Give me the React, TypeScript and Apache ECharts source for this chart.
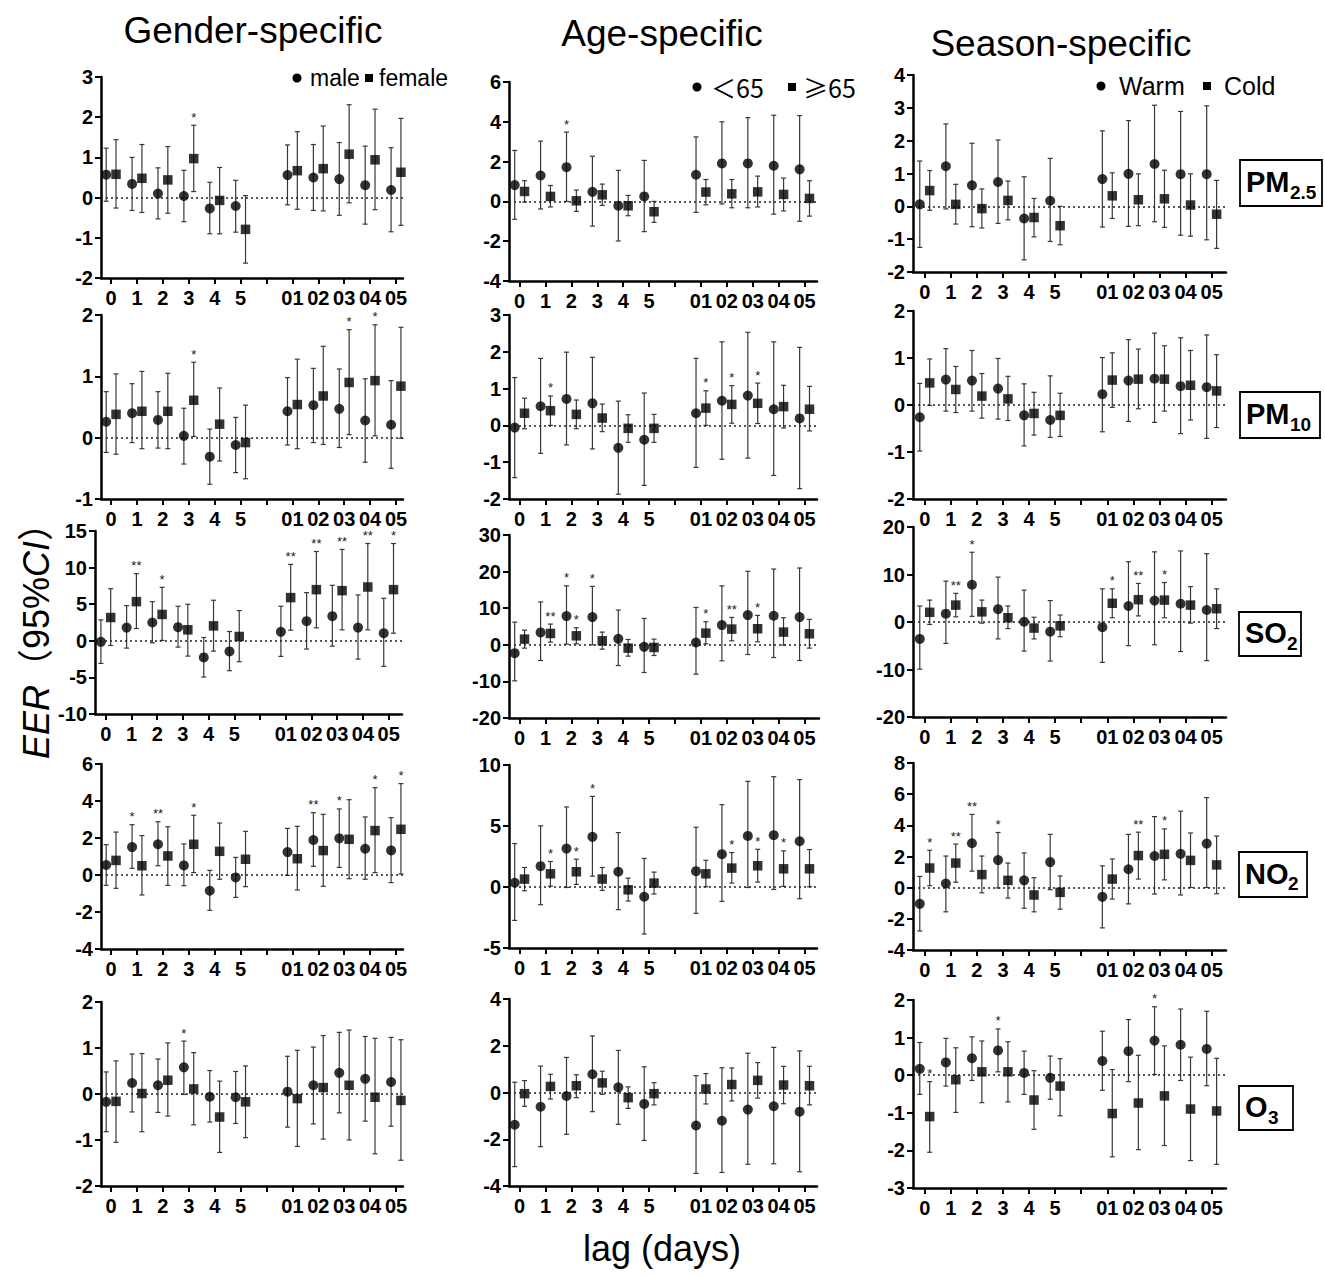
import React, { useEffect, useRef } from "react";
import * as echarts from "echarts";

type Tri = [number, number, number]; // [estimate, lower CI, upper CI]

// ---- categories / tick labels ----
const LAG_LABELS = ["0", "1", "2", "3", "4", "5", "01", "02", "03", "04", "05"];
const LAG_POS = [0, 1, 2, 3, 4, 5, 7, 8, 9, 10, 11];
const X_TICKS = [0, 1, 2, 3, 4, 5, 6, 7, 8, 9, 10, 11];

// ---- Gender-specific ----
const PM25_MALE: Tri[] = [[0.57,-0.09,1.23],[0.34,-0.32,1.0],[0.10,-0.53,0.74],[0.04,-0.60,0.68],[-0.27,-0.90,0.38],[-0.21,-0.86,0.43],[0.56,-0.18,1.31],[0.50,-0.32,1.32],[0.46,-0.44,1.37],[0.31,-0.66,1.28],[0.19,-0.85,1.24]];
const PM25_FEMALE: Tri[] = [[0.58,-0.26,1.44],[0.48,-0.37,1.32],[0.44,-0.39,1.27],[0.97,0.15,1.80],[-0.07,-0.90,0.75],[-0.79,-1.63,0.05],[0.67,-0.29,1.64],[0.72,-0.33,1.78],[1.08,-0.13,2.31],[0.94,-0.30,2.20],[0.63,-0.69,1.97]];
const PM25_MALE_SIG = ["","","","","","","","","","",""];
const PM25_FEMALE_SIG = ["","","","*","","","","","","",""];

const PM10_MALE: Tri[] = [[0.26,-0.24,0.75],[0.40,-0.08,0.88],[0.29,-0.17,0.75],[0.03,-0.43,0.48],[-0.31,-0.76,0.14],[-0.12,-0.57,0.33],[0.43,-0.12,0.98],[0.53,-0.08,1.13],[0.47,-0.16,1.12],[0.28,-0.40,0.96],[0.21,-0.50,0.93]];
const PM10_FEMALE: Tri[] = [[0.38,-0.27,1.04],[0.43,-0.18,1.08],[0.43,-0.18,1.05],[0.61,0.02,1.23],[0.22,-0.38,0.81],[-0.08,-0.67,0.53],[0.54,-0.18,1.28],[0.68,-0.11,1.49],[0.90,0.05,1.76],[0.93,0.03,1.84],[0.84,-0.01,1.80]];
const PM10_MALE_SIG = ["","","","","","","","","","",""];
const PM10_FEMALE_SIG = ["","","","*","","","","","*","*",""];

const SO2_MALE: Tri[] = [[-0.14,-3.09,2.86],[1.81,-1.0,4.81],[2.50,-0.27,5.35],[1.86,-0.86,4.72],[-2.27,-4.95,0.45],[-1.45,-4.08,1.27],[1.22,-2.13,4.72],[2.68,-1.13,6.58],[3.36,-0.73,7.58],[1.81,-2.50,6.26],[1.04,-3.49,5.81]];
const SO2_FEMALE: Tri[] = [[3.18,-0.64,7.12],[5.35,1.68,9.17],[3.6,0.05,7.3],[1.50,-2.09,4.99],[2.04,-1.41,5.54],[0.59,-2.86,4.13],[5.90,1.45,10.44],[6.99,1.77,12.2],[6.85,1.50,12.48],[7.35,1.50,13.29],[6.99,1.04,13.29]];
const SO2_MALE_SIG = ["","","","","","","","","","",""];
const SO2_FEMALE_SIG = ["","**","*","","","","**","**","**","**","*"];

const NO2_MALE: Tri[] = [[0.54,-0.56,1.64],[1.51,0.36,2.72],[1.66,0.50,2.88],[0.52,-0.58,1.68],[-0.85,-1.91,0.25],[-0.13,-1.21,0.95],[1.24,-0.02,2.52],[1.89,0.47,3.37],[1.98,0.41,3.57],[1.42,-0.23,3.14],[1.33,-0.41,3.10]];
const NO2_FEMALE: Tri[] = [[0.79,-0.72,2.32],[0.50,-1.08,2.13],[1.03,-0.56,2.61],[1.66,0.13,3.23],[1.28,-0.23,2.81],[0.85,-0.63,2.36],[0.88,-0.81,2.63],[1.32,-0.61,3.28],[1.93,-0.20,4.07],[2.40,0.13,4.72],[2.47,0.05,4.94]];
const NO2_MALE_SIG = ["","*","**","","","","","**","*","",""];
const NO2_FEMALE_SIG = ["","","","*","","","","","","*","*"];

const O3_MALE: Tri[] = [[-0.17,-0.82,0.48],[0.24,-0.39,0.87],[0.19,-0.40,0.76],[0.58,-0.01,1.15],[-0.06,-0.61,0.51],[-0.07,-0.64,0.49],[0.05,-0.72,0.82],[0.19,-0.65,1.02],[0.46,-0.41,1.34],[0.33,-0.59,1.25],[0.26,-0.70,1.23]];
const O3_FEMALE: Tri[] = [[-0.16,-1.05,0.72],[0.01,-0.82,0.88],[0.30,-0.48,1.11],[0.11,-0.67,0.90],[-0.50,-1.27,0.28],[-0.17,-0.95,0.61],[-0.10,-1.14,0.95],[0.14,-0.98,1.27],[0.19,-1.00,1.39],[-0.07,-1.30,1.21],[-0.14,-1.44,1.18]];
const O3_MALE_SIG = ["","","","*","","","","","","",""];
const O3_FEMALE_SIG = ["","","","","","","","","","",""];

// ---- Age-specific ----
const PM25_YOUNG: Tri[] = [[0.82,-0.90,2.56],[1.30,-0.38,3.03],[1.72,0.0,3.48],[0.48,-1.24,2.27],[-0.22,-1.99,1.56],[0.25,-1.52,2.06],[1.34,-0.55,3.24],[1.91,-0.13,4.0],[1.91,-0.32,4.21],[1.79,-0.64,4.33],[1.61,-1.0,4.31]];
const PM25_OLD: Tri[] = [[0.50,-0.03,1.04],[0.25,-0.28,0.80],[0.03,-0.50,0.57],[0.33,-0.20,0.87],[-0.22,-0.72,0.30],[-0.52,-1.05,0.0],[0.47,-0.17,1.10],[0.38,-0.32,1.10],[0.48,-0.28,1.27],[0.35,-0.48,1.17],[0.15,-0.74,1.04]];
const PM25_YOUNG_SIG = ["","","*","","","","","","","",""];
const PM25_OLD_SIG = ["","","","","","","","","","",""];

const PM10_YOUNG: Tri[] = [[-0.06,-1.42,1.30],[0.52,-0.76,1.82],[0.72,-0.53,1.99],[0.60,-0.64,1.85],[-0.61,-1.87,0.66],[-0.39,-1.63,0.88],[0.33,-1.14,1.82],[0.67,-0.92,2.27],[0.81,-0.89,2.53],[0.44,-1.36,2.27],[0.19,-1.72,2.12]];
const PM10_OLD: Tri[] = [[0.33,-0.09,0.74],[0.40,0.0,0.80],[0.30,-0.09,0.69],[0.20,-0.17,0.58],[-0.08,-0.46,0.29],[-0.08,-0.46,0.30],[0.47,0.0,0.94],[0.57,0.06,1.08],[0.60,0.05,1.15],[0.51,-0.07,1.09],[0.44,-0.15,1.06]];
const PM10_YOUNG_SIG = ["","","","","","","","","","",""];
const PM10_OLD_SIG = ["","*","","","","","*","*","*","",""];

const SO2_YOUNG: Tri[] = [[-2.28,-9.85,6.2],[3.38,-4.29,11.7],[7.85,0.18,16.1],[7.57,0.0,15.97],[1.64,-5.66,9.49],[-0.55,-7.57,7.2],[0.64,-8.03,10.2],[5.38,-4.38,16.1],[8.12,-2.65,20.07],[7.94,-3.47,20.7],[7.57,-4.29,20.98]];
const SO2_OLD: Tri[] = [[1.55,-0.91,4.01],[3.10,0.73,5.66],[2.46,0.27,4.65],[1.09,-1.19,3.47],[-0.91,-3.10,1.46],[-0.73,-2.92,1.55],[3.19,0.27,6.30],[4.29,1.09,7.48],[4.38,0.82,8.03],[3.47,-0.09,7.39],[3.01,-0.91,6.93]];
const SO2_YOUNG_SIG = ["","","*","*","","","","","","",""];
const SO2_OLD_SIG = ["","**","*","","","","*","**","*","",""];

const NO2_YOUNG: Tri[] = [[0.35,-2.74,3.56],[1.71,-1.45,5.01],[3.15,-0.04,6.56],[4.11,0.89,7.43],[1.25,-1.86,4.46],[-0.80,-3.85,2.34],[1.30,-2.16,4.90],[2.69,-1.18,6.75],[4.19,-0.04,8.66],[4.25,-0.20,9.04],[3.75,-0.96,8.80]];
const NO2_OLD: Tri[] = [[0.65,-0.31,1.60],[1.08,0.07,2.09],[1.25,0.21,2.28],[0.65,-0.28,1.60],[-0.23,-1.15,0.73],[0.32,-0.58,1.22],[1.08,0.02,2.19],[1.55,0.32,2.82],[1.74,0.40,3.09],[1.49,0.05,2.96],[1.49,0.02,3.07]];
const NO2_YOUNG_SIG = ["","","","*","","","","","","",""];
const NO2_OLD_SIG = ["","*","*","","","","","*","*","*",""];

const O3_YOUNG: Tri[] = [[-1.38,-3.17,0.44],[-0.61,-2.32,1.13],[-0.15,-1.79,1.50],[0.78,-0.82,2.42],[0.22,-1.36,1.80],[-0.49,-2.05,1.10],[-1.41,-3.46,0.72],[-1.21,-3.42,1.06],[-0.73,-3.07,1.68],[-0.59,-3.05,1.93],[-0.82,-3.39,1.78]];
const O3_OLD: Tri[] = [[-0.05,-0.59,0.51],[0.26,-0.28,0.78],[0.29,-0.22,0.76],[0.41,-0.08,0.91],[-0.22,-0.68,0.24],[-0.05,-0.53,0.42],[0.15,-0.49,0.81],[0.34,-0.36,1.05],[0.52,-0.24,1.28],[0.32,-0.48,1.12],[0.29,-0.53,1.12]];
const O3_YOUNG_SIG = ["","","","","","","","","","",""];
const O3_OLD_SIG = ["","","","","","","","","","",""];

// ---- Season-specific ----
const PM25_WARM: Tri[] = [[0.06,-1.25,1.38],[1.22,-0.08,2.51],[0.64,-0.62,1.92],[0.74,-0.52,2.02],[-0.37,-1.63,0.90],[0.17,-1.07,1.46],[0.83,-0.63,2.30],[0.99,-0.61,2.61],[1.29,-0.47,3.08],[0.98,-0.88,2.89],[0.98,-1.02,3.06]];
const PM25_COLD: Tri[] = [[0.48,-0.12,1.09],[0.06,-0.54,0.67],[-0.07,-0.66,0.53],[0.18,-0.41,0.77],[-0.34,-0.93,0.24],[-0.59,-1.17,0.0],[0.32,-0.37,1.02],[0.20,-0.59,0.99],[0.23,-0.64,1.10],[0.04,-0.91,0.99],[-0.24,-1.28,0.79]];
const PM25_WARM_SIG = ["","","","","","","","","","",""];
const PM25_COLD_SIG = ["","","","","","","","","","",""];

const PM10_WARM: Tri[] = [[-0.26,-0.98,0.46],[0.54,-0.13,1.20],[0.52,-0.13,1.16],[0.35,-0.30,0.99],[-0.22,-0.87,0.45],[-0.32,-0.69,0.62],[0.23,-0.57,1.01],[0.52,-0.35,1.39],[0.56,-0.37,1.53],[0.40,-0.61,1.43],[0.38,-0.71,1.49]];
const PM10_COLD: Tri[] = [[0.47,-0.01,0.98],[0.33,-0.16,0.82],[0.19,-0.28,0.67],[0.13,-0.33,0.61],[-0.18,-0.64,0.27],[-0.22,-0.67,0.25],[0.53,-0.05,1.11],[0.55,-0.08,1.19],[0.55,-0.13,1.26],[0.42,-0.32,1.16],[0.30,-0.48,1.07]];
const PM10_WARM_SIG = ["","","","","","","","","","",""];
const PM10_COLD_SIG = ["","","","","","","","","","",""];

const SO2_WARM: Tri[] = [[-3.56,-9.93,3.37],[1.76,-4.51,8.60],[7.84,1.19,14.68],[2.71,-3.56,9.45],[0.05,-6.13,6.70],[-2.04,-8.22,4.51],[-1.09,-8.50,6.98],[3.37,-4.99,12.68],[4.51,-4.80,14.77],[3.85,-6.22,14.96],[2.52,-8.12,14.39]];
const SO2_COLD: Tri[] = [[2.04,-0.52,4.61],[3.56,1.09,6.03],[2.14,-0.24,4.61],[0.90,-1.38,3.37],[-1.28,-3.56,1.0],[-0.81,-3.09,1.47],[3.94,0.90,6.98],[4.70,1.28,8.12],[4.61,0.90,8.31],[3.56,-0.24,7.46],[2.80,-1.38,6.98]];
const SO2_WARM_SIG = ["","","*","","","","","","","",""];
const SO2_COLD_SIG = ["","**","","","","","*","**","*","",""];

const NO2_WARM: Tri[] = [[-1.04,-2.78,0.72],[0.27,-1.55,2.03],[2.85,1.06,4.70],[1.77,-0.02,3.54],[0.47,-1.32,2.23],[1.64,-0.13,3.42],[-0.59,-2.58,1.40],[1.18,-1.04,3.42],[2.03,-0.41,4.56],[2.17,-0.47,4.91],[2.83,0.01,5.78]];
const NO2_COLD: Tri[] = [[1.26,0.13,2.40],[1.58,0.35,2.80],[0.84,-0.33,2.03],[0.47,-0.67,1.58],[-0.47,-1.55,0.64],[-0.30,-1.38,0.75],[0.55,-0.73,1.84],[2.06,0.55,3.56],[2.14,0.50,3.77],[1.75,0.01,3.51],[1.46,-0.39,3.31]];
const NO2_WARM_SIG = ["","","**","*","","","","","","",""];
const NO2_COLD_SIG = ["*","**","","","","","","**","*","",""];

const O3_WARM: Tri[] = [[0.17,-0.51,0.87],[0.34,-0.29,0.98],[0.45,-0.14,1.02],[0.66,0.09,1.23],[0.06,-0.51,0.64],[-0.07,-0.64,0.51],[0.38,-0.40,1.17],[0.64,-0.17,1.48],[0.92,0.02,1.82],[0.81,-0.14,1.76],[0.70,-0.28,1.70]];
const O3_COLD: Tri[] = [[-1.10,-2.05,-0.17],[-0.12,-0.99,0.73],[0.09,-0.73,0.91],[0.09,-0.71,0.89],[-0.66,-1.44,0.12],[-0.29,-1.08,0.44],[-1.02,-2.17,0.15],[-0.74,-1.98,0.53],[-0.55,-1.87,0.78],[-0.90,-2.27,0.48],[-0.95,-2.37,0.45]];
const O3_WARM_SIG = ["","","","*","","","","","*","",""];
const O3_COLD_SIG = ["*","","","","","","","","","",""];

// ---- y-axis ranges [min, max, interval] ----
const Y_GENDER: [number, number, number][] = [[-2, 3, 1], [-1, 2, 1], [-10, 15, 5], [-4, 6, 2], [-2, 2, 1]];
const Y_AGE: [number, number, number][] = [[-4, 6, 2], [-2, 3, 1], [-20, 30, 10], [-5, 10, 5], [-4, 4, 2]];
const Y_SEASON: [number, number, number][] = [[-2, 4, 1], [-2, 2, 1], [-20, 20, 10], [-4, 8, 2], [-3, 2, 1]];

// ---- layout (pixels): [left, right, top, bottom] and x range ----
const BOX_GENDER = [[101, 403, 77, 278], [101, 403, 315, 499], [95, 402, 531, 714], [101, 403, 764, 949], [101, 403, 1002, 1186]];
const BOX_AGE = [[509, 817, 82, 281], [509, 817, 315, 499], [509, 819, 535, 718], [509, 817, 765, 948], [509, 817, 999, 1186]];
const BOX_SEASON = [[913, 1226, 75, 272], [913, 1226, 311, 499], [913, 1226, 527, 717], [913, 1226, 763, 950], [913, 1226, 1000, 1188]];
const XR_GENDER = [[-0.39, 11.27], [-0.39, 11.27], [-0.42, 11.52], [-0.39, 11.27], [-0.39, 11.27]];
const XR_AGE = [[-0.41, 11.48], [-0.41, 11.48], [-0.41, 11.56], [-0.41, 11.48], [-0.41, 11.48]];
const XR_SEASON = [[-0.45, 11.55], [-0.45, 11.55], [-0.45, 11.55], [-0.45, 11.55], [-0.45, 11.55]];

const FONT = "'Liberation Sans', Arial, Helvetica, sans-serif";
const CJK = "'Liberation Sans', 'Noto Sans CJK SC', sans-serif";
const CJK_FIRST = "'Noto Sans CJK SC', 'Liberation Sans', sans-serif";
const OFF_A = -0.19;
const OFF_B = 0.19;

interface Panel {
  a: Tri[]; b: Tri[]; sigA: string[]; sigB: string[];
  y: [number, number, number]; box: number[]; xr: number[];
}

const PANELS: Panel[] = [
  { a: PM25_MALE, b: PM25_FEMALE, sigA: PM25_MALE_SIG, sigB: PM25_FEMALE_SIG, y: Y_GENDER[0], box: BOX_GENDER[0], xr: XR_GENDER[0] },
  { a: PM10_MALE, b: PM10_FEMALE, sigA: PM10_MALE_SIG, sigB: PM10_FEMALE_SIG, y: Y_GENDER[1], box: BOX_GENDER[1], xr: XR_GENDER[1] },
  { a: SO2_MALE, b: SO2_FEMALE, sigA: SO2_MALE_SIG, sigB: SO2_FEMALE_SIG, y: Y_GENDER[2], box: BOX_GENDER[2], xr: XR_GENDER[2] },
  { a: NO2_MALE, b: NO2_FEMALE, sigA: NO2_MALE_SIG, sigB: NO2_FEMALE_SIG, y: Y_GENDER[3], box: BOX_GENDER[3], xr: XR_GENDER[3] },
  { a: O3_MALE, b: O3_FEMALE, sigA: O3_MALE_SIG, sigB: O3_FEMALE_SIG, y: Y_GENDER[4], box: BOX_GENDER[4], xr: XR_GENDER[4] },
  { a: PM25_YOUNG, b: PM25_OLD, sigA: PM25_YOUNG_SIG, sigB: PM25_OLD_SIG, y: Y_AGE[0], box: BOX_AGE[0], xr: XR_AGE[0] },
  { a: PM10_YOUNG, b: PM10_OLD, sigA: PM10_YOUNG_SIG, sigB: PM10_OLD_SIG, y: Y_AGE[1], box: BOX_AGE[1], xr: XR_AGE[1] },
  { a: SO2_YOUNG, b: SO2_OLD, sigA: SO2_YOUNG_SIG, sigB: SO2_OLD_SIG, y: Y_AGE[2], box: BOX_AGE[2], xr: XR_AGE[2] },
  { a: NO2_YOUNG, b: NO2_OLD, sigA: NO2_YOUNG_SIG, sigB: NO2_OLD_SIG, y: Y_AGE[3], box: BOX_AGE[3], xr: XR_AGE[3] },
  { a: O3_YOUNG, b: O3_OLD, sigA: O3_YOUNG_SIG, sigB: O3_OLD_SIG, y: Y_AGE[4], box: BOX_AGE[4], xr: XR_AGE[4] },
  { a: PM25_WARM, b: PM25_COLD, sigA: PM25_WARM_SIG, sigB: PM25_COLD_SIG, y: Y_SEASON[0], box: BOX_SEASON[0], xr: XR_SEASON[0] },
  { a: PM10_WARM, b: PM10_COLD, sigA: PM10_WARM_SIG, sigB: PM10_COLD_SIG, y: Y_SEASON[1], box: BOX_SEASON[1], xr: XR_SEASON[1] },
  { a: SO2_WARM, b: SO2_COLD, sigA: SO2_WARM_SIG, sigB: SO2_COLD_SIG, y: Y_SEASON[2], box: BOX_SEASON[2], xr: XR_SEASON[2] },
  { a: NO2_WARM, b: NO2_COLD, sigA: NO2_WARM_SIG, sigB: NO2_COLD_SIG, y: Y_SEASON[3], box: BOX_SEASON[3], xr: XR_SEASON[3] },
  { a: O3_WARM, b: O3_COLD, sigA: O3_WARM_SIG, sigB: O3_COLD_SIG, y: Y_SEASON[4], box: BOX_SEASON[4], xr: XR_SEASON[4] },
];

function errRender(sig: string[]) {
  return (params: any, api: any) => {
    const x = api.value(0);
    const lo = api.value(1);
    const hi = api.value(2);
    const pLo = api.coord([x, lo]);
    const pHi = api.coord([x, hi]);
    const c = 2.5;
    const st = { stroke: "#383838", lineWidth: 1.2 };
    const children: any[] = [
      { type: "line", shape: { x1: pLo[0], y1: pLo[1], x2: pHi[0], y2: pHi[1] }, style: st },
      { type: "line", shape: { x1: pHi[0] - c, y1: pHi[1], x2: pHi[0] + c, y2: pHi[1] }, style: st },
      { type: "line", shape: { x1: pLo[0] - c, y1: pLo[1], x2: pLo[0] + c, y2: pLo[1] }, style: st },
    ];
    const s = sig[params.dataIndex];
    if (s) {
      children.push({
        type: "text",
        x: pHi[0],
        y: pHi[1] - 3,
        style: {
          text: s, fill: "#222", fontSize: 13, lineHeight: 10, fontFamily: FONT,
          align: "center", verticalAlign: "bottom", textAlign: "center", textVerticalAlign: "bottom",
        },
      });
    }
    return { type: "group", children };
  };
}

function txt(x: number, y: number, text: string, size: number, extra: any = {}) {
  return {
    type: "text", x, y, silent: true,
    style: {
      text, fill: "#000", fontSize: size, fontFamily: FONT,
      align: "left", verticalAlign: "middle", textAlign: "left", textVerticalAlign: "middle",
      ...extra,
    },
  };
}

function pollutantBox(x: number, y: number, w: number, h: number, main: string, sub: string, mainW: number) {
  return {
    type: "group",
    children: [
      { type: "rect", shape: { x, y, width: w, height: h }, style: { fill: "#fff", stroke: "#000", lineWidth: 1.8 } },
      txt(x + 6, y + h / 2 - 1, main, 29, { fontWeight: "bold" }),
      txt(x + 6 + mainW, y + h / 2 + 9, sub, 19, { fontWeight: "bold" }),
    ],
  };
}

function legend(cx: number, cy: number, labelA: string, labA: number, sqX: number, labelB: string, labB: number, family: string, size: number) {
  return [
    { type: "circle", shape: { cx, cy, r: 4.5 }, style: { fill: "#000" } },
    txt(labA, cy, labelA, size, { fontFamily: family }),
    { type: "rect", shape: { x: sqX - 4, y: cy - 4, width: 8, height: 8 }, style: { fill: "#000" } },
    txt(labB, cy, labelB, size, { fontFamily: family }),
  ];
}

function buildOption() {
  const grid: any[] = [];
  const xAxis: any[] = [];
  const yAxis: any[] = [];
  const series: any[] = [];

  PANELS.forEach((p, k) => {
    const [l, r, t, b] = p.box;
    grid.push({ left: l, top: t, width: r - l, height: b - t, containLabel: false });
    xAxis.push({
      type: "value", gridIndex: k, min: p.xr[0], max: p.xr[1],
      splitLine: { show: false },
      axisLine: { show: true, onZero: false, lineStyle: { color: "#000", width: 2.5 } },
      axisTick: { show: true, customValues: X_TICKS, length: 6, lineStyle: { color: "#000", width: 2 } },
      axisLabel: {
        customValues: LAG_POS,
        formatter: (v: number) => LAG_LABELS[LAG_POS.indexOf(Math.round(v))] ?? "",
        color: "#000", fontSize: 20, lineHeight: 18, fontWeight: "bold", fontFamily: FONT, margin: 11,
      },
    });
    yAxis.push({
      type: "value", gridIndex: k, min: p.y[0], max: p.y[1], interval: p.y[2],
      splitLine: { show: false },
      axisLine: { show: true, onZero: false, lineStyle: { color: "#000", width: 2.5 } },
      axisTick: { show: true, length: 6, lineStyle: { color: "#000", width: 2 } },
      axisLabel: { color: "#000", fontSize: 20, fontWeight: "bold", fontFamily: FONT, margin: 8 },
    });
    const mk = (arr: Tri[], off: number) => arr.map((d, i) => [LAG_POS[i] + off, d[1], d[2]]);
    const pts = (arr: Tri[], off: number) => arr.map((d, i) => [LAG_POS[i] + off, d[0]]);
    series.push({
      type: "custom", xAxisIndex: k, yAxisIndex: k, data: mk(p.a, OFF_A),
      encode: { x: 0, y: [1, 2] }, renderItem: errRender(p.sigA), z: 2, silent: true,
    });
    series.push({
      type: "custom", xAxisIndex: k, yAxisIndex: k, data: mk(p.b, OFF_B),
      encode: { x: 0, y: [1, 2] }, renderItem: errRender(p.sigB), z: 2, silent: true,
    });
    series.push({
      type: "scatter", xAxisIndex: k, yAxisIndex: k, data: pts(p.a, OFF_A),
      symbol: "circle", symbolSize: 10, itemStyle: { color: "#000" }, z: 5, silent: true,
      markLine: {
        silent: true, symbol: ["none", "none"], label: { show: false },
        lineStyle: { type: [2, 3], color: "#222", width: 1.5 },
        data: [{ yAxis: 0 }],
      },
    });
    series.push({
      type: "scatter", xAxisIndex: k, yAxisIndex: k, data: pts(p.b, OFF_B),
      symbol: "rect", symbolSize: 9.5, itemStyle: { color: "#000" }, z: 5, silent: true,
    });
  });

  const graphic: any[] = [
    txt(253, 30, "Gender-specific", 37, { align: "center", textAlign: "center" }),
    txt(662, 33, "Age-specific", 37, { align: "center", textAlign: "center" }),
    txt(1061, 43, "Season-specific", 37, { align: "center", textAlign: "center" }),
    ...legend(297, 78, "male", 310, 369, "female", 379, FONT, 23),
    ...legend(697, 87, "＜65", 711, 792, "≥65", 803, CJK_FIRST, 25),
    ...legend(1101, 86, "Warm", 1119, 1207, "Cold", 1224, FONT, 25),
    pollutantBox(1240, 160, 82, 46, "PM", "2.5", 44),
    pollutantBox(1240, 392, 80, 46, "PM", "10", 44),
    pollutantBox(1239, 612, 62, 44, "SO", "2", 42),
    pollutantBox(1239, 852, 68, 45, "NO", "2", 43),
    pollutantBox(1239, 1086, 54, 44, "O", "3", 23),
    {
      type: "text", x: 36, y: 632, rotation: Math.PI / 2, silent: true,
      style: {
        text: "{i|EER}{n|（95%}{i|CI}{n|）}",
        align: "center", verticalAlign: "middle", textAlign: "center", textVerticalAlign: "middle",
        fill: "#000",
        rich: {
          i: { fontStyle: "italic", fontSize: 36, fontFamily: CJK, fill: "#000" },
          n: { fontSize: 36, fontFamily: CJK, fill: "#000" },
        },
      },
    },
    txt(662, 1248, "lag (days)", 36, { align: "center", textAlign: "center" }),
  ];

  return { animation: false, backgroundColor: "#fff", grid, xAxis, yAxis, series, graphic };
}

export default function App() {
  const ref = useRef<HTMLDivElement>(null);
  useEffect(() => {
    if (!ref.current) return;
    const chart = echarts.init(ref.current, null, { renderer: "svg" });
    chart.setOption(buildOption() as any);
    return () => chart.dispose();
  }, []);
  return (
    <div
      ref={ref}
      style={{ position: "absolute", left: 0, top: 0, width: 1325, height: 1276, background: "#fff" }}
    />
  );
}
